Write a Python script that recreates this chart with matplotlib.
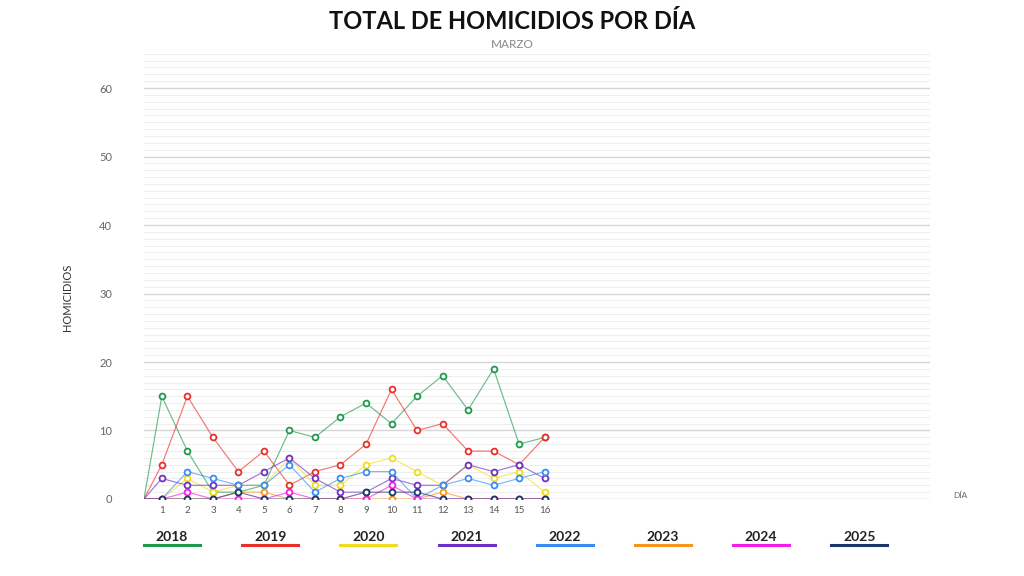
import matplotlib
matplotlib.use("Agg")
import matplotlib.pyplot as plt
from matplotlib.lines import Line2D
import numpy as np

plt.rcParams['font.family'] = ['Lato', 'DejaVu Sans']

# datos: homicidios por dia, marzo
dias = list(range(1, 17))
anios = ["2018", "2019", "2020", "2021", "2022", "2023", "2024", "2025"]
h2018 = [15, 7, 1, 1, 2, 10, 9, 12, 14, 11, 15, 18, 13, 19, 8, 9]
h2019 = [5, 15, 9, 4, 7, 2, 4, 5, 8, 16, 10, 11, 7, 7, 5, 9]
h2020 = [0, 3, 1, 2, 2, 6, 2, 2, 5, 6, 4, 2, 5, 3, 4, 1]
h2021 = [3, 2, 2, 2, 4, 6, 3, 1, 1, 3, 2, 2, 5, 4, 5, 3]
h2022 = [0, 4, 3, 2, 2, 5, 1, 3, 4, 4, 0, 2, 3, 2, 3, 4]
h2023 = [0, 0, 0, 1, 1, 0, 0, 0, 0, 0, 0, 1, 0, 0, 0, 0]
h2024 = [0, 1, 0, 0, 0, 1, 0, 0, 0, 2, 0, 0, 0, 0, 0, 0]
h2025 = [0, 0, 0, 1, 0, 0, 0, 0, 1, 1, 1, 0, 0, 0, 0, 0]
series = [h2018, h2019, h2020, h2021, h2022, h2023, h2024, h2025]

colores = ["#1e9a4a", "#e8302a", "#f0dc1e", "#7030c8",
           "#3a8cf0", "#f7941d", "#f01ee6", "#1b3668"]
y_ticks = [0, 10, 20, 30, 40, 50, 60]

fig = plt.figure(figsize=(10.24, 5.76), dpi=100)
ax = fig.add_axes([0.1406, 0.1337, 0.7676, 0.7729])
ax.set_xlim(0.3, 31.1)
ax.set_ylim(0, 65)

# rejilla: cada unidad clara, cada 10 mas oscura
for v in range(1, 66):
    ax.axhline(v, color="#d6d6d6" if v % 10 == 0 else "#eeeeee",
               lw=1.0 if v % 10 == 0 else 0.8, zorder=0)
ax.axhline(0, color="#bdbdbd", lw=1.0, zorder=0)

x_ini = ax.get_xlim()[0]
for vals, col in zip(series, colores):
    ax.plot([x_ini] + dias, [0] + vals, color=col, lw=0.85, alpha=0.65, zorder=2)
    ax.plot(dias, vals, ls="none", marker="o", ms=4.2, mfc="white",
            mec=col, mew=1.3, zorder=3)

for s in ax.spines.values():
    s.set_visible(False)
ax.set_xticks(dias)
ax.set_xticklabels([str(d) for d in dias], fontsize=7, color="#555555")
ax.set_yticks(y_ticks)
ax.set_yticklabels([str(v) for v in y_ticks], fontsize=8, color="#666666")
ax.tick_params(axis="x", length=0, pad=5)
ax.tick_params(axis="y", length=0, pad=23)

fig.text(0.0664, 0.484, "HOMICIDIOS", rotation=90, ha="center", va="center",
         fontsize=8, color="#333333")
fig.text(0.938, 0.139, "DÍA", ha="center", va="center", fontsize=6, color="#666666")

fig.text(0.5, 0.963, "TOTAL DE HOMICIDIOS POR DÍA", ha="center", va="center",
         fontsize=17, fontweight="bold", color="#111111")
fig.text(0.5, 0.922, "MARZO", ha="center", va="center", fontsize=8.5, color="#888888")

# leyenda inferior: año en negrita y linea de color debajo
for i, (anio, col) in enumerate(zip(anios, colores)):
    cx = (172 + i * 98.2) / 1024
    fig.text(cx, 1 - 537 / 576, anio, ha="center", va="center",
             fontsize=10, fontweight="bold", color="#222222")
    fig.add_artist(Line2D([cx - 28 / 1024, cx + 28 / 1024],
                          [1 - 545 / 576, 1 - 545 / 576], color=col, lw=2.2,
                          transform=fig.transFigure))

fig.savefig("out.png", dpi=100)
